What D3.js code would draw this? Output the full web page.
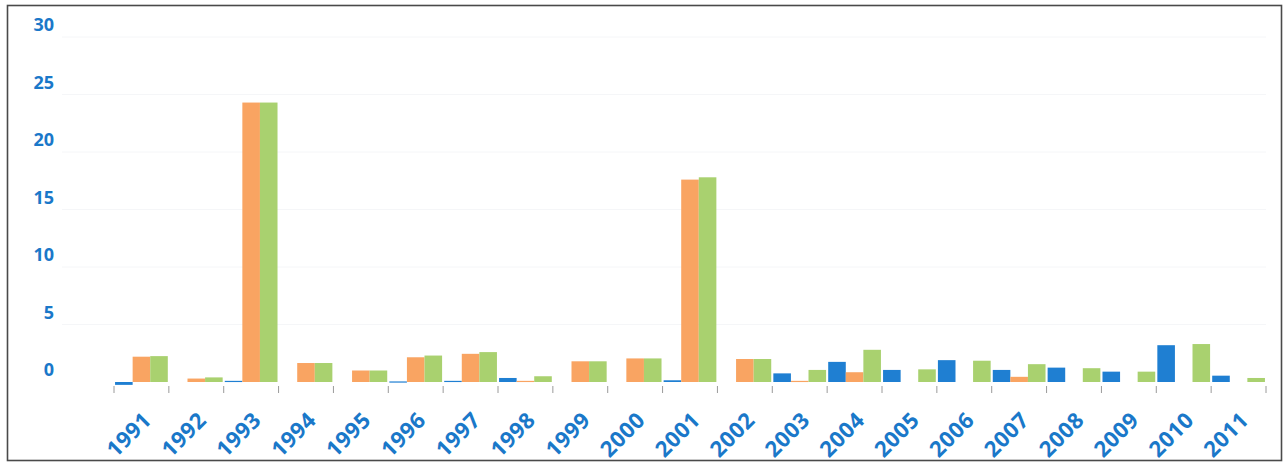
<!DOCTYPE html>
<html>
<head>
<meta charset="utf-8">
<script src="https://cdn.jsdelivr.net/npm/d3@7"></script>
<style>
  html, body { margin: 0; padding: 0; background: #fff; }
  svg { display: block; }
</style>
</head>
<body>
<svg id="chart" width="1287" height="464"></svg>
<script>
// Annual values, three series per year
const years = ["1991","1992","1993","1994","1995","1996","1997","1998","1999","2000","2001",
               "2002","2003","2004","2005","2006","2007","2008","2009","2010","2011"];
const seriesBlue   = [-0.25, 0, 0.1, 0, 0, 0.05, 0.1, 0.35, 0, 0, 0.15,
                      0, 0.75, 1.75, 1.05, 1.9, 1.05, 1.25, 0.9, 3.2, 0.55];
const seriesOrange = [2.2, 0.3, 24.3, 1.65, 1.0, 2.15, 2.45, 0.1, 1.8, 2.05, 17.6,
                      2.0, 0.1, 0.85, 0, 0, 0.45, 0, 0, 0, 0];
const seriesGreen  = [2.25, 0.4, 24.3, 1.65, 1.0, 2.3, 2.6, 0.5, 1.8, 2.05, 17.8,
                      2.0, 1.05, 2.8, 1.1, 1.85, 1.55, 1.2, 0.9, 3.3, 0.35];
const yTicks = [0, 5, 10, 15, 20, 25, 30];

const seriesNames = ["blue", "orange", "green"];
const seriesColors = { blue: "#1f7fd2", orange: "#f9a462", green: "#a9d16f" };
const seriesValues = { blue: seriesBlue, orange: seriesOrange, green: seriesGreen };

const svg = d3.select("#chart");

// outer frame
svg.append("rect")
  .attr("x", 7.5).attr("y", 5.5)
  .attr("width", 1274).attr("height", 455)
  .attr("fill", "#fff")
  .attr("stroke", "#4a4a4a")
  .attr("stroke-width", 1.6);

const x = d3.scaleBand().domain(years).range([114, 1266]).padding(0);
const xInner = d3.scaleBand().domain(seriesNames)
  .range([0, x.bandwidth()]).paddingInner(0).paddingOuter(0.06);
const y = d3.scaleLinear().domain([0, 30]).range([382, 37]);

// very faint horizontal gridlines
svg.append("g")
  .selectAll("line")
  .data(yTicks.filter(d => d > 0))
  .join("line")
  .attr("x1", 62).attr("x2", 1266)
  .attr("y1", d => y(d)).attr("y2", d => y(d))
  .attr("stroke", "#f5f6f8")
  .attr("stroke-width", 1);

// y-axis labels
const yAxis = d3.axisLeft(y).tickValues(yTicks).tickSize(0).tickPadding(0);
const gy = svg.append("g").attr("transform", "translate(54,0)").call(yAxis);
gy.select(".domain").remove();
gy.selectAll("text")
  .attr("dy", "-0.36em")
  .attr("fill", "#1a78c9")
  .style("font-family", "'Open Sans', 'DejaVu Sans', sans-serif")
  .style("font-weight", "700")
  .style("font-size", "18px");

// bars
const rows = years.map((yr, i) => ({ year: yr, values: seriesNames.map(s => ({ key: s, v: seriesValues[s][i] })) }));
const groups = svg.append("g").selectAll("g")
  .data(rows)
  .join("g")
  .attr("transform", d => `translate(${x(d.year)},0)`);
groups.selectAll("rect")
  .data(d => d.values.filter(e => e.v !== 0))
  .join("rect")
  .attr("x", d => xInner(d.key))
  .attr("width", xInner.bandwidth())
  .attr("y", d => Math.min(y(d.v), y(0)))
  .attr("height", d => Math.max(1.2, Math.abs(y(d.v) - y(0))))
  .attr("fill", d => seriesColors[d.key]);

// x-axis tick marks between categories
const tickPositions = years.map(yr => x(yr)).concat([x.range()[1]]);
svg.append("g").selectAll("line")
  .data(tickPositions)
  .join("line")
  .attr("x1", d => d).attr("x2", d => d)
  .attr("y1", 386).attr("y2", 393)
  .attr("stroke", "#9a9a9a")
  .attr("stroke-width", 1);

// rotated year labels
svg.append("g").selectAll("text")
  .data(years)
  .join("text")
  .attr("transform", d => `translate(${x(d) + x.bandwidth() / 2 + 6},${416}) rotate(-45)`)
  .attr("text-anchor", "end")
  .attr("dy", "0.35em")
  .attr("fill", "#1a78c9")
  .style("font-family", "'Open Sans', 'DejaVu Sans', sans-serif")
  .style("font-weight", "700")
  .style("font-size", "22px")
  .style("letter-spacing", "0.5px")
  .text(d => d);
</script>
</body>
</html>
